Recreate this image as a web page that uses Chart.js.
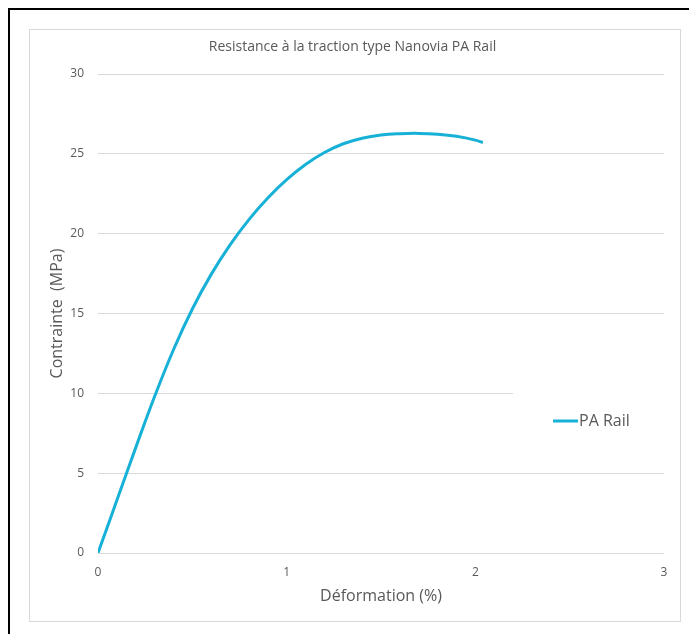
<!DOCTYPE html>
<html>
<head>
<meta charset="utf-8">
<script src="https://cdn.jsdelivr.net/npm/chart.js@4/dist/chart.umd.min.js"></script>
<style>
  html, body { margin: 0; padding: 0; background: #fff; }
  #wrap { position: relative; width: 689px; height: 634px; overflow: hidden; }
  #frame { position: absolute; left: 8px; top: 8px; width: 700px; height: 700px;
           border-left: 2px solid #000; border-top: 2px solid #000; }
  #box { position: absolute; left: 29px; top: 29px; width: 650px; height: 591px;
         border: 1px solid #d9d9d9; }
  #chart { position: absolute; left: 0; top: 0; }
</style>
</head>
<body>
<div id="wrap">
  <div id="frame"></div>
  <div id="box"></div>
  <canvas id="chart" width="689" height="634"></canvas>
</div>
<script>
// Deformation (%) and stress (MPa)
const strain = [0, 0.1, 0.2, 0.3, 0.4, 0.5, 0.6, 0.7, 0.8, 0.9, 1.0, 1.1,
                1.2, 1.3, 1.4, 1.5, 1.6, 1.7, 1.8, 1.9, 2.0, 2.04];
const stress = [0, 3.3, 6.6, 9.8, 12.73, 15.28, 17.45, 19.3, 20.88, 22.23, 23.38, 24.33,
                25.08, 25.63, 25.98, 26.18, 26.26, 26.28, 26.23, 26.1, 25.86, 25.7];
const seriesName = 'PA Rail';
const xTicks = [0, 1, 2, 3];
const yTicks = [0, 5, 10, 15, 20, 25, 30];

const lineColor = '#17b1d8';
const textColor = '#595959';
const font = '"Open Sans", "Noto Sans", sans-serif';

// Legend sits inside the plot area and hides the gridline behind it
const legendPlugin = {
    id: 'innerLegend',
    beforeDatasetsDraw(chart) {
        const ctx = chart.ctx;
        ctx.save();
        ctx.fillStyle = '#fff';
        ctx.fillRect(513, 388, 155, 64);
        ctx.restore();
    },
    afterDraw(chart) {
        const ctx = chart.ctx;
        ctx.save();
        ctx.strokeStyle = lineColor;
        ctx.lineWidth = 3;
        ctx.beginPath();
        ctx.moveTo(553, 421);
        ctx.lineTo(578, 421);
        ctx.stroke();
        ctx.fillStyle = textColor;
        ctx.font = '16px ' + font;
        ctx.textBaseline = 'middle';
        ctx.fillText(seriesName, 579, 421);
        ctx.restore();
    }
};

new Chart(document.getElementById('chart'), {
    type: 'line',
    data: {
        datasets: [{
            label: seriesName,
            data: strain.map((x, i) => ({ x: x, y: stress[i] })),
            borderColor: lineColor,
            borderWidth: 3,
            pointRadius: 0,
            fill: false,
            tension: 0.4
        }]
    },
    options: {
        responsive: false,
        animation: false,
        layout: { padding: { left: 41, right: 25, top: 0, bottom: 0 } },
        plugins: {
            legend: { display: false },
            tooltip: { enabled: false },
            title: {
                display: true,
                text: 'Resistance à la traction type Nanovia PA Rail',
                color: textColor,
                font: { family: font, size: 14, weight: 'normal' },
                padding: { top: 38.6, bottom: 18.6 }
            }
        },
        scales: {
            x: {
                type: 'linear',
                min: 0,
                max: 3,
                afterBuildTicks: s => { s.ticks = xTicks.map(v => ({ value: v })); },
                afterFit: s => { s.height = 81; },
                grid: { display: false },
                border: { display: false },
                ticks: { color: textColor, font: { family: font, size: 12 }, padding: 4 },
                title: {
                    display: true,
                    text: 'Déformation (%)',
                    color: textColor,
                    font: { family: font, size: 16 },
                    padding: { top: 0, bottom: 28.4 }
                }
            },
            y: {
                min: 0,
                max: 30,
                afterBuildTicks: s => { s.ticks = yTicks.map(v => ({ value: v })); },
                afterFit: s => { s.width = 57; },
                grid: { color: '#d9d9d9', lineWidth: 1, drawTicks: false },
                border: { display: false },
                ticks: { color: textColor, font: { family: font, size: 12 }, padding: 14 },
                title: {
                    display: true,
                    text: 'Contrainte  (MPa)',
                    color: textColor,
                    font: { family: font, size: 16 },
                    padding: { top: 6.4, bottom: 0 }
                }
            }
        }
    },
    plugins: [legendPlugin]
});
</script>
</body>
</html>
